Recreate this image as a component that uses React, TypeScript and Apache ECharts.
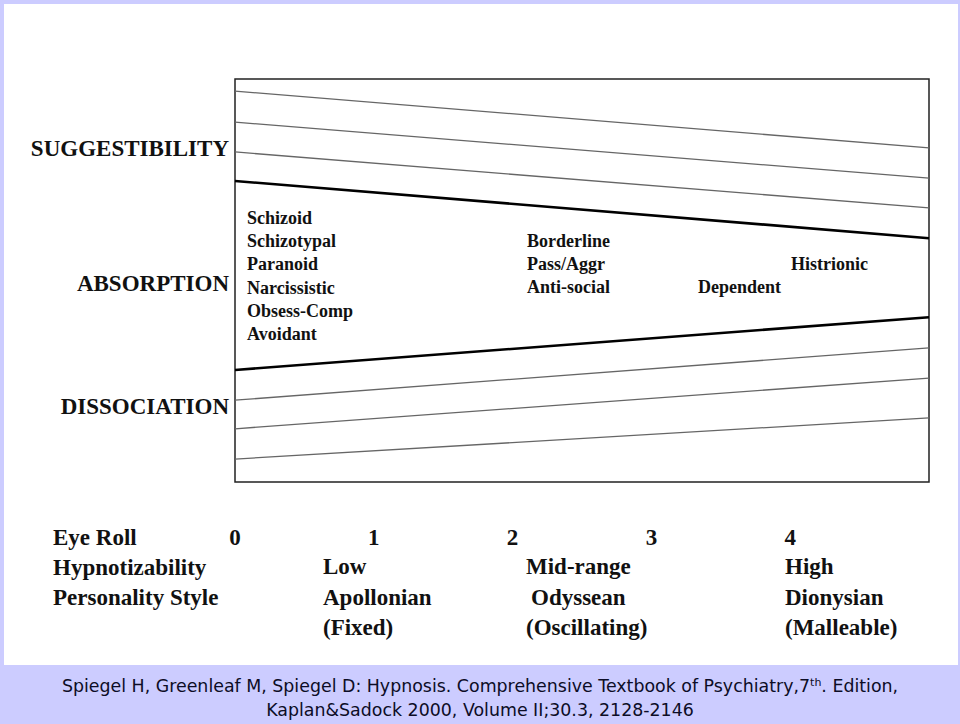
import React, { useEffect, useRef } from "react";
import * as echarts from "echarts";

// x: eye-roll scale 0..5 ; y: 0 (bottom of box) .. 100 (top of box)
const eyeRollTicks = [0, 1, 2, 3, 4];
const suggestibilityLines = [
  [97.0, 82.9],
  [89.3, 75.4],
  [81.9, 68.0],
];
const absorptionUpper = [74.7, 60.5];
const absorptionLower = [27.8, 40.9];
const dissociationLines = [
  [20.3, 33.3],
  [13.2, 25.8],
  [5.7, 15.9],
];
const dimensionLabels = ["SUGGESTIBILITY", "ABSORPTION", "DISSOCIATION"];
const lowGroup = ["Schizoid", "Schizotypal", "Paranoid", "Narcissistic", "Obsess-Comp", "Avoidant"];
const midGroup = ["Borderline", "Pass/Aggr", "Anti-social"];
const highGroup = ["Dependent", "Histrionic"];
const rowTitles = ["Eye Roll", "Hypnotizability", "Personality Style"];
const hypnotizability = ["Low", "Mid-range", "High"];
const personalityStyle = ["Apollonian", "Odyssean", "Dionysian"];
const styleDesc = ["(Fixed)", "(Oscillating)", "(Malleable)"];

const SERIF = "'Liberation Serif', 'Times New Roman', serif";

export default function App() {
  const ref = useRef<HTMLDivElement>(null);
  useEffect(() => {
    document.body.style.margin = "0";
    const chart = echarts.init(ref.current!, null, { renderer: "svg" });
    const mk = (pair: number[], thick: boolean) => ({
      type: "line",
      data: [
        [0, pair[0]],
        [5, pair[1]],
      ],
      symbol: "none",
      silent: true,
      lineStyle: thick ? { color: "#000", width: 2.6 } : { color: "#666", width: 1.3 },
    });
    const series: any[] = [
      ...suggestibilityLines.map((p) => mk(p, false)),
      mk(absorptionUpper, true),
      mk(absorptionLower, true),
      ...dissociationLines.map((p) => mk(p, false)),
    ];
    const txt = (text: string, x: number, y: number, size: number, align = "left") => ({
      type: "text",
      x,
      y,
      silent: true,
      style: {
        text,
        fill: "#111",
        font: `bold ${size}px ${SERIF}`,
        textAlign: align,
        textVerticalAlign: "middle",
      },
    });
    const graphic: any[] = [
      {
        type: "rect",
        z: -10,
        shape: { x: 4, y: 4, width: 954, height: 661 },
        style: { fill: "#ffffff" },
        silent: true,
      },
    ];
    const dimY = [148, 283, 406];
    dimensionLabels.forEach((t, i) => graphic.push(txt(t, 229, dimY[i], 23, "right")));
    lowGroup.forEach((t, i) => graphic.push(txt(t, 247, 218 + i * 23.2, 18)));
    midGroup.forEach((t, i) => graphic.push(txt(t, 527, 241 + i * 23, 18)));
    graphic.push(txt(highGroup[0], 698, 287, 18));
    graphic.push(txt(highGroup[1], 791, 264, 18));
    rowTitles.forEach((t, i) => graphic.push(txt(t, 53, 537 + i * 30, 23)));
    const colX = [323, 526, 785];
    hypnotizability.forEach((t, i) => graphic.push(txt(t, colX[i], 566, 23)));
    const colX2 = [323, 531, 785];
    personalityStyle.forEach((t, i) => graphic.push(txt(t, colX2[i], 597, 23)));
    styleDesc.forEach((t, i) => graphic.push(txt(t, colX[i], 627, 23)));
    graphic.push({
      type: "text",
      x: 480,
      y: 686,
      silent: true,
      style: {
        text: "{a|Spiegel H, Greenleaf M, Spiegel D: Hypnosis. Comprehensive Textbook of Psychiatry,7}{s|th}{a|. Edition,}",
        textAlign: "center",
        textVerticalAlign: "middle",
        rich: {
          a: { fontFamily: "'DejaVu Sans', sans-serif", fontSize: 17.4, fill: "#0d0d26" },
          s: { fontFamily: "'DejaVu Sans', sans-serif", fontSize: 11, fill: "#0d0d26", padding: [0, 0, 8, 0] },
        },
      },
    });
    graphic.push({
      type: "text",
      x: 480,
      y: 710,
      silent: true,
      style: {
        text: "Kaplan&Sadock 2000, Volume II;30.3, 2128-2146",
        fill: "#0d0d26",
        font: "17.4px 'DejaVu Sans', sans-serif",
        textAlign: "center",
        textVerticalAlign: "middle",
      },
    });

    chart.setOption({
      animation: false,
      backgroundColor: "#ccccff",
      grid: {
        left: 235,
        right: 31,
        top: 79,
        bottom: 242,
        show: true,
        borderColor: "#222",
        borderWidth: 1.5,
        backgroundColor: "transparent",
      },
      xAxis: {
        type: "value",
        min: 0,
        max: 5,
        interval: 1,
        axisLine: { show: false },
        axisTick: { show: false },
        splitLine: { show: false },
        axisLabel: {
          show: true,
          margin: 55,
          verticalAlign: "middle",
          color: "#111",
          fontFamily: SERIF,
          fontWeight: "bold",
          fontSize: 23,
          formatter: (v: number) => (eyeRollTicks.includes(v) ? String(v) : ""),
        },
      },
      yAxis: {
        type: "value",
        min: 0,
        max: 100,
        show: false,
        splitLine: { show: false },
      },
      series,
      graphic,
    });
    return () => chart.dispose();
  }, []);
  return <div ref={ref} style={{ width: 960, height: 724 }} />;
}
